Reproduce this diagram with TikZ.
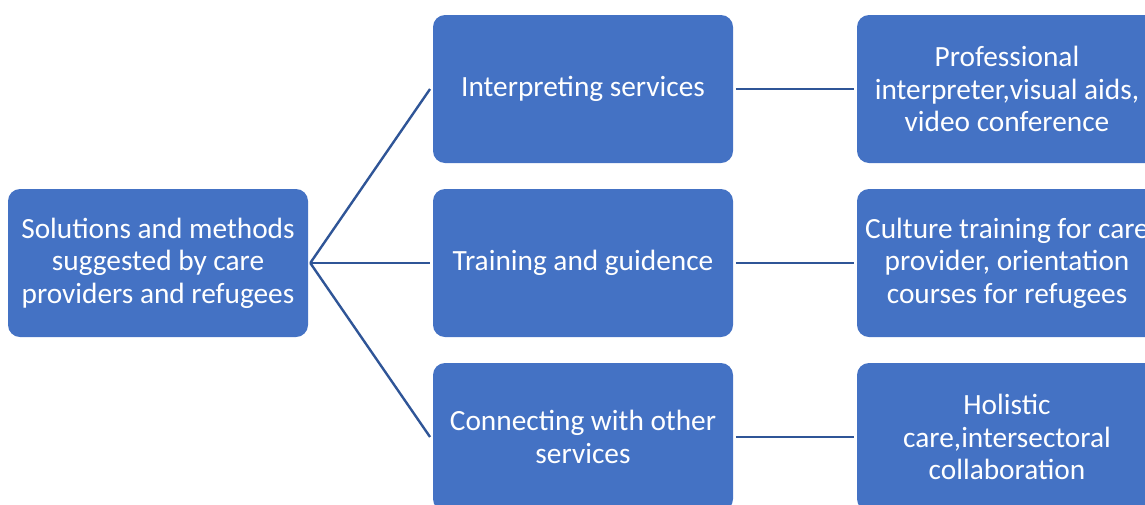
\documentclass[tikz,border=0pt]{standalone}
\usepackage{fontspec}
\setmainfont{Carlito}
\definecolor{boxfill}{HTML}{4472C4}
\definecolor{linecol}{HTML}{2F5597}
\begin{document}
\begin{tikzpicture}[x=0.75pt,y=-0.75pt,
  box/.style={draw=none,fill=boxfill,rounded corners=9pt,minimum width=225pt,minimum height=111pt,
    text=white,align=center,inner sep=0pt,font=\fontsize{22}{24.4}\selectfont},
  conn/.style={draw=linecol,line width=1.8pt}]
\useasboundingbox (0,0) rectangle (1145,504);
\clip (0,0) rectangle (1145,504);
\node[box] (root) at (158,263) {Solutions and methods\\suggested by care\\providers and refugees};
\node[box] (m1) at (583,89) {Interpreting services};
\node[box] (m2) at (583,263) {Training and guidence};
\node[box] (m3) at (583,437) {Connecting with other\\services};
\node[box] (r1) at (1007,89) {Professional\\interpreter,visual aids,\\video conference};
\node[box] (r2) at (1007,263) {Culture training for care\\provider, orientation\\courses for refugees};
\node[box] (r3) at (1007,437) {Holistic\\care,intersectoral\\collaboration};
\coordinate (s) at ([xshift=1.5pt]root.east);
\draw[conn] (s) -- ([xshift=-2pt]m1.west);
\draw[conn] (s) -- ([xshift=-2pt]m2.west);
\draw[conn] (s) -- ([xshift=-2pt]m3.west);
\draw[conn] ([xshift=2pt]m1.east) -- ([xshift=-2pt]r1.west);
\draw[conn] ([xshift=2pt]m2.east) -- ([xshift=-2pt]r2.west);
\draw[conn] ([xshift=2pt]m3.east) -- ([xshift=-2pt]r3.west);
\end{tikzpicture}
\end{document}
